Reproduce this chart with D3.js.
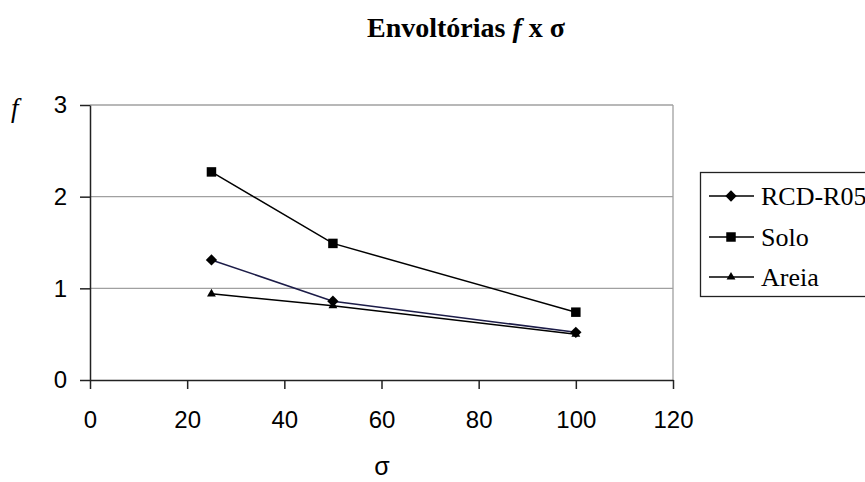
<!DOCTYPE html>
<html>
<head>
<meta charset="utf-8">
<script src="https://cdn.jsdelivr.net/npm/d3@7"></script>
<style>
  html, body { margin: 0; padding: 0; background: #fff; overflow: hidden; }
  svg { display: block; }
</style>
</head>
<body>
<svg id="chart" width="865" height="482"></svg>
<script>
// σ values (x) shared by all series
const sigma = [25, 50, 100];
// envelope values f for each material
const rcd = [1.31, 0.86, 0.52];
const solo = [2.27, 1.49, 0.74];
const areia = [0.94, 0.81, 0.50];
const seriesNames = ["RCD-R05", "Solo", "Areia"];
const xTicks = [0, 20, 40, 60, 80, 100, 120];
const yTicks = [0, 1, 2, 3];

// a square turned 45° for the diamond marker
const diamond = {
  draw(ctx, size) {
    const r = Math.sqrt(size / 2);
    ctx.moveTo(0, -r); ctx.lineTo(r, 0); ctx.lineTo(0, r); ctx.lineTo(-r, 0); ctx.closePath();
  }
};

const series = [
  { name: seriesNames[0], values: rcd, symbol: diamond, size: 64, line: "#1c1c48" },
  { name: seriesNames[1], values: solo, symbol: d3.symbolSquare, size: 90, line: "#000" },
  { name: seriesNames[2], values: areia, symbol: d3.symbolTriangle, size: 34, line: "#000" }
];

const svg = d3.select("#chart");
const plot = { left: 90, right: 673, top: 105, bottom: 380 };

const x = d3.scaleLinear().domain([0, 120]).range([plot.left, plot.right]);
const y = d3.scaleLinear().domain([0, 3]).range([plot.bottom, plot.top]);

const serif = "'Liberation Serif', 'Times New Roman', serif";
const sans = "'Liberation Sans', Arial, sans-serif";

// title
const title = svg.append("text")
  .attr("x", 466).attr("y", 37)
  .attr("text-anchor", "middle")
  .attr("font-family", serif)
  .attr("font-weight", "bold")
  .attr("font-size", 28);
title.append("tspan").text("Envoltórias ");
title.append("tspan").attr("font-style", "italic").text("f");
title.append("tspan").text(" x σ");

// gridlines
svg.append("g").selectAll("line")
  .data(yTicks.filter(d => d > 0))
  .join("line")
  .attr("x1", plot.left).attr("x2", plot.right)
  .attr("y1", d => y(d)).attr("y2", d => y(d))
  .attr("stroke", "#a0a0a0").attr("stroke-width", 1.3);

// right border of the plot area
svg.append("line")
  .attr("x1", plot.right).attr("x2", plot.right)
  .attr("y1", plot.top).attr("y2", plot.bottom)
  .attr("stroke", "#a0a0a0").attr("stroke-width", 1.3);

// axes
const xAxis = d3.axisBottom(x).tickValues(xTicks).tickFormat(d3.format("d"))
  .tickSize(9).tickPadding(22).tickSizeOuter(0);
const yAxis = d3.axisLeft(y).tickValues(yTicks).tickFormat(d3.format("d"))
  .tickSize(10).tickPadding(13).tickSizeOuter(0);

const gx = svg.append("g").attr("transform", `translate(0,${plot.bottom})`).call(xAxis);
const gy = svg.append("g").attr("transform", `translate(${plot.left},0)`).call(yAxis);

[gx, gy].forEach(g => {
  g.attr("font-size", null).attr("font-family", null);
  g.select(".domain").attr("stroke", "#222").attr("stroke-width", 1.5);
  g.selectAll(".tick line").attr("stroke", "#222").attr("stroke-width", 1.5);
  g.selectAll(".tick text")
    .attr("font-family", sans)
    .attr("font-size", 24)
    .attr("fill", "#000");
});

// axis titles
svg.append("text")
  .attr("x", 11).attr("y", 117)
  .attr("font-family", serif)
  .attr("font-style", "italic")
  .attr("font-size", 27)
  .text("f");

svg.append("text")
  .attr("x", 382).attr("y", 475)
  .attr("text-anchor", "middle")
  .attr("font-family", sans)
  .attr("font-size", 25)
  .text("σ");

// series lines and markers
const line = d3.line().x((d, i) => x(sigma[i])).y(d => y(d));

series.forEach(s => {
  svg.append("path")
    .datum(s.values)
    .attr("d", line)
    .attr("fill", "none")
    .attr("stroke", s.line)
    .attr("stroke-width", 1.5);
});
series.forEach(s => {
  svg.append("g").selectAll("path")
    .data(s.values)
    .join("path")
    .attr("transform", (d, i) => `translate(${x(sigma[i])},${y(d)})`)
    .attr("d", d3.symbol().type(s.symbol).size(s.size))
    .attr("fill", "#000");
});

// legend
const legend = svg.append("g");
legend.append("rect")
  .attr("x", 700.5).attr("y", 172.5)
  .attr("width", 200).attr("height", 124)
  .attr("fill", "#fff").attr("stroke", "#222").attr("stroke-width", 1.3);

const legendY = [196, 237, 277];
series.forEach((s, i) => {
  const g = legend.append("g").attr("transform", `translate(0,${legendY[i]})`);
  g.append("line").attr("x1", 709).attr("x2", 754).attr("y1", 0).attr("y2", 0)
    .attr("stroke", "#000").attr("stroke-width", 1.5);
  g.append("path").attr("transform", "translate(731,0)")
    .attr("d", d3.symbol().type(s.symbol).size(s.size)).attr("fill", "#000");
  g.append("text").attr("x", 761).attr("y", 0).attr("dy", "0.35em")
    .attr("font-family", serif)
    .attr("font-size", 26)
    .text(s.name);
});
</script>
</body>
</html>
